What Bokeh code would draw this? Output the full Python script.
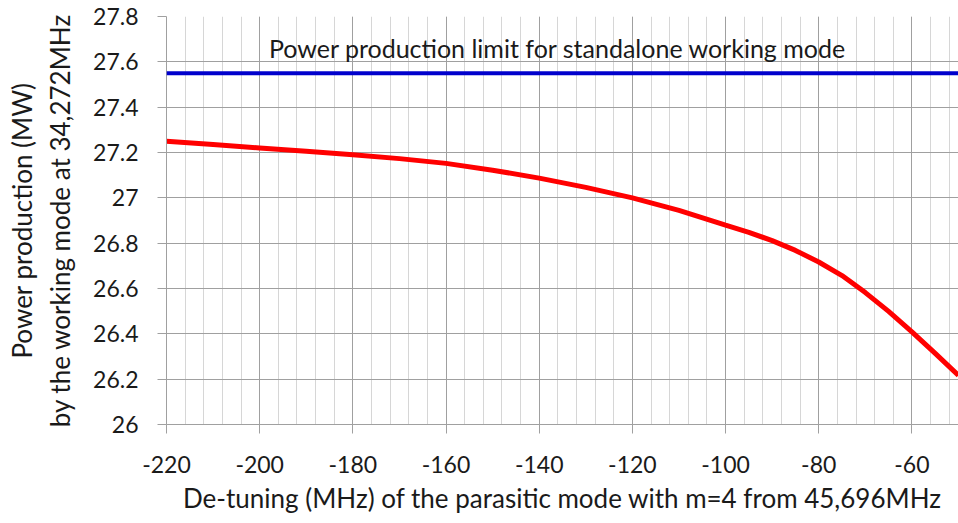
from bokeh.plotting import figure
from bokeh.models import FixedTicker, CustomJSTickFormatter, Range1d, Label, Span
from bokeh.embed import file_html
from bokeh.resources import INLINE

detuning = [-220, -210, -200, -190, -180, -170, -160, -150, -140, -130,
            -120, -110, -100, -95, -90, -85, -80, -75, -70, -65, -60, -55, -50]
power = [27.25, 27.235, 27.22, 27.205, 27.19, 27.173, 27.152, 27.122, 27.087, 27.046,
         27.0, 26.945, 26.88, 26.848, 26.811, 26.768, 26.717, 26.657, 26.582, 26.499,
         26.409, 26.314, 26.217]
limit_value = 27.55
limit_label = "Power production limit for standalone working mode"
x_ticks = [-220, -200, -180, -160, -140, -120, -100, -80, -60]
x_minor = list(range(-220, -49, 4))
y_ticks = [26.0, 26.2, 26.4, 26.6, 26.8, 27.0, 27.2, 27.4, 27.6, 27.8]

FONT = "Lato"

p = figure(width=958, height=523, output_backend="svg", toolbar_location=None,
           x_range=Range1d(-220, -50), y_range=Range1d(26, 27.8),
           min_border_left=166, min_border_right=0, min_border_top=16, min_border_bottom=99)
p.outline_line_color = None
p.background_fill_color = "white"
p.border_fill_color = "white"

p.xaxis.ticker = FixedTicker(ticks=x_ticks, minor_ticks=x_minor)
p.xaxis.formatter = CustomJSTickFormatter(code="return String(tick);")
p.yaxis.ticker = FixedTicker(ticks=y_ticks)
p.yaxis.formatter = CustomJSTickFormatter(code="return tick.toFixed(1).replace(/\\.0$/, '');")

for ax in (p.xaxis, p.yaxis):
    ax.axis_line_color = "#a0a0a0"
    ax.major_tick_line_color = "#a0a0a0"
    ax.major_tick_out = 9
    ax.major_tick_in = 0
    ax.minor_tick_line_color = None
    ax.major_label_text_font = FONT
    ax.major_label_text_font_size = "23px"
    ax.major_label_text_color = "#1a1a1a"
    ax.axis_label_text_font = FONT
    ax.axis_label_text_font_style = "normal"
    ax.axis_label_text_font_size = "26px"
    ax.axis_label_text_color = "#1a1a1a"

p.xaxis.major_label_standoff = 22
p.xaxis.axis_label = "De-tuning (MHz) of the parasitic mode with m=4 from 45,696MHz"
p.xaxis.axis_label_standoff = 6
p.yaxis.major_label_standoff = 19
p.yaxis.axis_label = "Power production (MW)\nby the working mode at 34,272MHz"
p.yaxis.axis_label_standoff = 14

p.xgrid.grid_line_color = "#a0a0a0"
p.xgrid.minor_grid_line_color = "#d6d6d6"
p.ygrid.grid_line_color = "#a0a0a0"

limit = Span(location=limit_value, dimension="width", line_color="#0000cc", line_width=4)
p.add_layout(limit)

p.line(detuning, power, line_color="#ff0000", line_width=5)

p.add_layout(Label(x=-136, y=27.66, text=limit_label, text_align="center",
                   text_baseline="middle", text_font=FONT, text_font_size="25px",
                   text_color="#1a1a1a"))

open("out.html", "w").write(file_html(p, INLINE))
